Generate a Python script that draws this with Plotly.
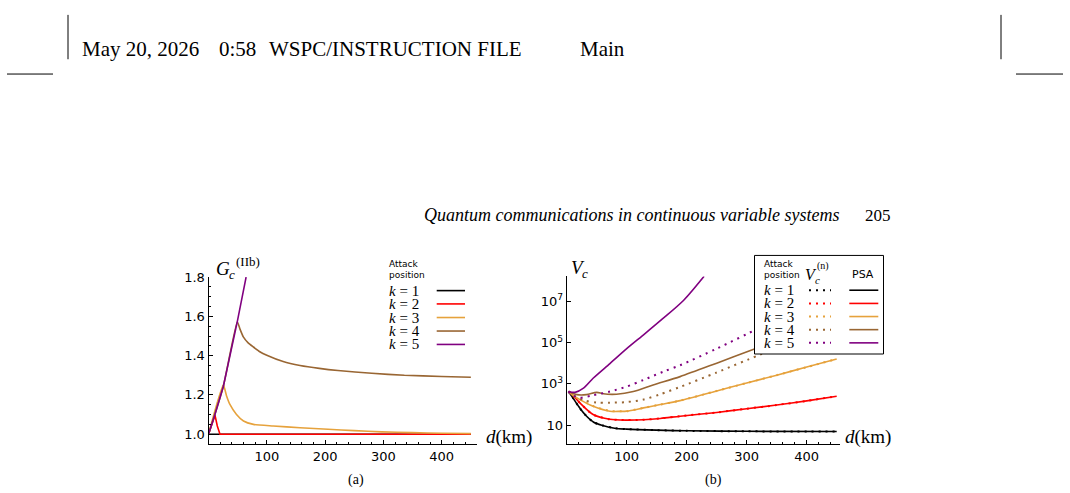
import plotly.graph_objects as go

W, H = 1070, 493

# ---------------- data: panel (a)  G_c^(IIb) vs d(km) ----------------
a_k1_d = [0, 450]
a_k1_g = [1.0, 1.0]
a_k2_d = [0, 11.1, 15.1, 19.7, 450]
a_k2_g = [1.0, 1.097, 1.042, 1.0, 1.0]
a_k3_d = [0, 25.4, 31, 37, 48, 60, 77, 111, 157, 205, 250, 297, 350, 400, 450]
a_k3_g = [1.0, 1.251, 1.195, 1.15, 1.10, 1.067, 1.05, 1.042, 1.033, 1.025, 1.018, 1.012, 1.008, 1.005, 1.003]
a_k4_d = [0, 25.4, 49.4, 54, 60, 68, 77, 88, 100, 128, 157, 190, 222, 280, 336, 400, 450]
a_k4_g = [1.0, 1.243, 1.573, 1.535, 1.494, 1.465, 1.444, 1.42, 1.402, 1.37, 1.35, 1.335, 1.324, 1.31, 1.30, 1.294, 1.29]
a_k5_d = [0, 11.1, 25.4, 49.4, 64.5]
a_k5_g = [1.0, 1.10, 1.243, 1.573, 1.80]

# ---------------- data: panel (b)  V_c vs d(km) ----------------
b_k1_psa_d = [3, 10, 20, 30, 45, 60, 80, 100, 150, 200, 300, 450]
b_k1_psa_v = [430, 220, 80, 34, 14, 9.8, 7.2, 6.5, 5.8, 5.4, 5.1, 5.0]
b_k1_n_d = [3, 10, 20, 30, 45, 60, 80, 100, 150, 200, 300, 450]
b_k1_n_v = [430, 220, 80, 34, 14, 9.8, 7.2, 6.5, 5.8, 5.4, 5.1, 5.0]

b_k2_psa_d = [3, 10, 22, 44, 72, 100, 128, 156, 189, 250, 300, 350, 400, 450]
b_k2_psa_v = [427, 282, 120, 33, 19.5, 17.8, 18.6, 21.4, 27.5, 41.7, 63, 95, 151, 251]
b_k2_n_d = [3, 10, 22, 44, 72, 100, 128, 156, 189, 250, 300, 350, 400, 450]
b_k2_n_v = [427, 282, 120, 33, 19.5, 17.8, 18.6, 21.4, 27.5, 41.7, 63, 95, 151, 251]

b_k3_psa_d = [3, 10, 22, 44, 72, 89, 100, 128, 156, 189, 250, 300, 350, 400, 450]
b_k3_psa_v = [427, 282, 174, 83, 48, 47, 48, 69, 100, 155, 457, 1096, 2630, 6457, 15850]
b_k3_n_d = [3, 10, 22, 44, 72, 89, 100, 128, 156, 189, 250, 300, 350, 400, 450]
b_k3_n_v = [427, 290, 180, 85, 49, 47, 48, 69, 100, 155, 457, 1096, 2630, 6457, 15850]

b_k4_psa_d = [3, 17, 33, 50, 61, 83, 111, 144, 189, 250, 314, 330]
b_k4_psa_v = [427, 302, 302, 389, 331, 316, 427, 891, 2239, 10000, 50119, 74131]
b_k4_n_d = [3, 15, 30, 50, 72, 100, 128, 156, 189, 250, 317, 330]
b_k4_n_v = [427, 240, 158, 126, 123, 132, 174, 316, 708, 3548, 22387, 31623]

b_k5_psa_d = [3, 14, 28, 44, 72, 100, 130, 160, 195, 229]
b_k5_psa_v = [427, 389, 617, 1862, 9550, 50000, 2.6e5, 1.4e6, 1.1e7, 1.58e8]
b_k5_n_d = [3, 10, 22, 44, 72, 100, 128, 161, 189, 250, 317, 330]
b_k5_n_v = [427, 282, 214, 282, 427, 741, 1549, 3890, 7943, 50119, 446684, 707946]

# ---------------- styling ----------------
COLORS = ["#000000", "#ff0000", "#e6a23c", "#996633", "#800080"]
A_SHAPES = ["linear", "linear", "spline", "spline", "linear"]
labels_k = ["1", "2", "3", "4", "5"]
DOT = "2px,5px"
SERIF = "Liberation Serif"
SANS = "DejaVu Sans"


def fx(px):
    return px / W


def fy(py):
    return 1 - py / H


fig = go.Figure()

a_sets = [(a_k1_d, a_k1_g), (a_k2_d, a_k2_g), (a_k3_d, a_k3_g), (a_k4_d, a_k4_g), (a_k5_d, a_k5_g)]
for (d, g), c, shp in zip(a_sets, COLORS, A_SHAPES):
    ln = dict(color=c, width=1.6, shape=shp)
    if shp == "spline":
        ln["smoothing"] = 0.5
    fig.add_trace(go.Scatter(x=d, y=g, mode="lines", line=ln,
                             xaxis="x", yaxis="y", showlegend=False, hoverinfo="skip"))

b_sets = [
    (b_k1_n_d, b_k1_n_v, b_k1_psa_d, b_k1_psa_v),
    (b_k2_n_d, b_k2_n_v, b_k2_psa_d, b_k2_psa_v),
    (b_k3_n_d, b_k3_n_v, b_k3_psa_d, b_k3_psa_v),
    (b_k4_n_d, b_k4_n_v, b_k4_psa_d, b_k4_psa_v),
    (b_k5_n_d, b_k5_n_v, b_k5_psa_d, b_k5_psa_v),
]
for (nd, nv, pd_, pv), c in zip(b_sets, COLORS):
    fig.add_trace(go.Scatter(x=pd_, y=pv, mode="lines", line=dict(color=c, width=1.6, shape="spline", smoothing=0.8),
                             xaxis="x2", yaxis="y2", showlegend=False, hoverinfo="skip"))
    fig.add_trace(go.Scatter(x=nd, y=nv, mode="lines", line=dict(color=c, width=2, dash=DOT, shape="spline", smoothing=0.8),
                             xaxis="x2", yaxis="y2", showlegend=False, hoverinfo="skip"))

axis_common = dict(showline=True, linecolor="black", linewidth=1, ticks="inside", ticklen=4,
                   tickcolor="black", tickwidth=1, showgrid=False, zeroline=False,
                   tickfont=dict(family=SANS, size=13, color="black"))

fig.update_layout(
    width=W, height=H, margin=dict(l=0, r=0, t=0, b=0),
    paper_bgcolor="white", plot_bgcolor="white", showlegend=False,
    xaxis=dict(domain=[fx(208.5), fx(476.7)], range=[0, 460], anchor="y",
               tickvals=[100, 200, 300, 400],
               minor=dict(tickmode="linear", tick0=0, dtick=20, ticks="inside", ticklen=2, tickcolor="black"),
               **axis_common),
    yaxis=dict(domain=[fy(443.3), fy(274)], range=[0.95, 1.8], anchor="x",
               tickvals=[1.0, 1.2, 1.4, 1.6, 1.8], ticktext=["1.0", "1.2", "1.4", "1.6", "1.8"],
               minor=dict(tickmode="linear", tick0=0.95, dtick=0.05, ticks="inside", ticklen=2, tickcolor="black"),
               **axis_common),
    xaxis2=dict(domain=[fx(566.7), fx(840)], range=[0, 455.5], anchor="y2",
                tickvals=[100, 200, 300, 400],
                minor=dict(tickmode="linear", tick0=0, dtick=20, ticks="inside", ticklen=2, tickcolor="black"),
                **axis_common),
    yaxis2=dict(domain=[fy(443.3), fy(273.3)], range=[0.095, 8.19], type="log", anchor="x2",
                tickvals=[10, 1e3, 1e5, 1e7],
                ticktext=["10", "10<sup>3</sup>", "10<sup>5</sup>", "10<sup>7</sup>"],
                **axis_common),
)

shapes = []
annotations = []


def line_shape(x0, y0, x1, y1, color="black", width=1, dash=None):
    ln = dict(color=color, width=width)
    if dash:
        ln["dash"] = dash
    return dict(type="line", xref="paper", yref="paper", x0=fx(x0), y0=fy(y0), x1=fx(x1), y1=fy(y1),
                line=ln, layer="above")


def text(x, y, s, size, family=SERIF, xanchor="left", color="black"):
    annotations.append(dict(x=fx(x), y=fy(y), xref="paper", yref="paper", text=s, showarrow=False,
                            xanchor=xanchor, yanchor="middle", font=dict(family=family, size=size, color=color)))


# crop marks
shapes.append(line_shape(68, 8, 68, 53))
shapes.append(line_shape(1001, 8, 1001, 53))
shapes.append(line_shape(7, 68, 53, 68))
shapes.append(line_shape(1016, 68, 1063, 68))

# page header
text(80, 43, "May 20, 2026", 21)
text(217, 43, "0:58", 21)
text(267, 43, "WSPC/INSTRUCTION FILE", 21)
text(578, 43, "Main", 21)
text(422, 211, "<i>Quantum communications in continuous variable systems</i>", 18)
text(893, 211, "205", 17, xanchor="right")

# axis titles panel (a)
text(214, 265, "<i>G</i>", 19)
text(227, 271, "<i>c</i>", 13)
text(234, 258, "(IIb)", 13)
text(484, 436, "<i>d</i>(km)", 19)
# axis titles panel (b)
text(569, 264, "<i>V</i>", 19)
text(580, 270, "<i>c</i>", 13)
text(843, 436, "<i>d</i>(km)", 19)

# captions
text(355.5, 480, "(a)", 14, xanchor="center")
text(713.5, 480, "(b)", 14, xanchor="center")

# legend (a)
text(387, 261, "Attack", 9, family=SANS)
text(387, 272, "position", 9, family=SANS)
a_rows = [287.7, 301.2, 315.0, 328.7, 342.3]
for yy, c, k in zip(a_rows, COLORS, labels_k):
    text(387, yy, "<i>k</i> = " + k, 15)
    shapes.append(line_shape(436.7, yy, 465, yy, color=c, width=1.6))

# legend (b) box
shapes.append(dict(type="rect", xref="paper", yref="paper", x0=fx(754.5), y0=fy(352), x1=fx(883.5), y1=fy(252),
                   fillcolor="white", line=dict(color="black", width=1), layer="above"))
text(761.5, 261, "Attack", 9, family=SANS)
text(761.5, 272, "position", 9, family=SANS)
text(803, 271.5, "<i>V</i>", 16)
text(813, 277, "<i>c</i>", 11)
text(815, 263, "(n)", 10)
text(850, 271.5, "PSA", 11, family=SANS)
b_rows = [287.3, 300.7, 314.0, 327.3, 340.7]
for yy, c, k in zip(b_rows, COLORS, labels_k):
    text(761.5, yy, "<i>k</i> = " + k, 15)
    shapes.append(line_shape(809, yy, 831, yy, color=c, width=2, dash=DOT))
    shapes.append(line_shape(849.3, yy, 878.3, yy, color=c, width=1.6))

fig.update_layout(shapes=shapes, annotations=annotations)
fig.write_html("out.html")
